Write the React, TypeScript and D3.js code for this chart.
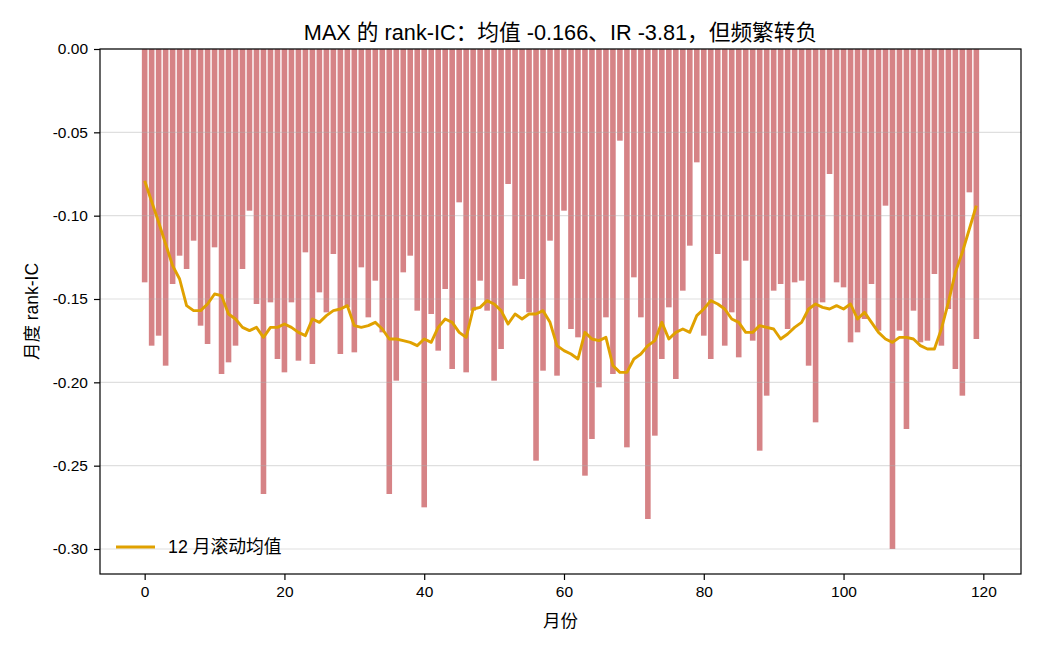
import React, { useEffect, useRef } from 'react';
import * as d3 from 'd3';

// month index 0..119
const months = d3.range(120);

// monthly rank-IC
const monthlyIC = [
  -0.140, -0.178, -0.172, -0.190, -0.141, -0.124, -0.132, -0.115, -0.166, -0.177,
  -0.119, -0.195, -0.188, -0.178, -0.132, -0.097, -0.153, -0.267, -0.152, -0.186,
  -0.194, -0.152, -0.187, -0.122, -0.189, -0.146, -0.158, -0.123, -0.183, -0.155,
  -0.182, -0.131, -0.161, -0.139, -0.170, -0.267, -0.199, -0.134, -0.124, -0.157,
  -0.275, -0.159, -0.181, -0.144, -0.192, -0.092, -0.194, -0.157, -0.139, -0.157,
  -0.199, -0.180, -0.081, -0.142, -0.138, -0.158, -0.247, -0.193, -0.115, -0.196,
  -0.097, -0.168, -0.173, -0.256, -0.234, -0.203, -0.161, -0.195, -0.055, -0.239,
  -0.137, -0.161, -0.282, -0.232, -0.186, -0.155, -0.198, -0.145, -0.118, -0.068,
  -0.172, -0.186, -0.123, -0.178, -0.158, -0.185, -0.127, -0.175, -0.241, -0.208,
  -0.145, -0.141, -0.168, -0.140, -0.139, -0.190, -0.224, -0.152, -0.075, -0.140,
  -0.143, -0.176, -0.170, -0.162, -0.141, -0.169, -0.094, -0.300, -0.169, -0.228,
  -0.157, -0.176, -0.175, -0.135, -0.178, -0.156, -0.192, -0.208, -0.086, -0.174,
];

// 12-month rolling mean line
const rolling12 = [
  -0.079, -0.0915, -0.104, -0.117, -0.130, -0.138, -0.154, -0.157, -0.157, -0.153,
  -0.147, -0.148, -0.159, -0.162, -0.167, -0.169, -0.167, -0.173, -0.167, -0.167,
  -0.165, -0.167, -0.170, -0.172, -0.162, -0.164, -0.160, -0.157, -0.156, -0.154,
  -0.166, -0.167, -0.166, -0.164, -0.168, -0.174, -0.174, -0.175, -0.176, -0.178,
  -0.174, -0.176, -0.167, -0.162, -0.164, -0.170, -0.173, -0.156, -0.155, -0.151,
  -0.153, -0.157, -0.165, -0.159, -0.162, -0.159, -0.159, -0.157, -0.164, -0.178,
  -0.181, -0.183, -0.186, -0.170, -0.174, -0.175, -0.173, -0.190, -0.194, -0.194,
  -0.186, -0.183, -0.178, -0.175, -0.164, -0.174, -0.170, -0.168, -0.170, -0.160,
  -0.156, -0.151, -0.153, -0.156, -0.162, -0.164, -0.170, -0.170, -0.166, -0.167,
  -0.168, -0.174, -0.171, -0.167, -0.164, -0.156, -0.153, -0.155, -0.156, -0.154,
  -0.156, -0.153, -0.162, -0.158, -0.164, -0.170, -0.174, -0.176, -0.173, -0.173,
  -0.174, -0.178, -0.180, -0.180, -0.168, -0.152, -0.134, -0.122, -0.108, -0.094,
];

const xTicks = [0, 20, 40, 60, 80, 100, 120];
const yTicks = [0, -0.05, -0.1, -0.15, -0.2, -0.25, -0.3];

const title = 'MAX 的 rank-IC：均值 -0.166、IR -3.81，但频繁转负';
const xLabel = '月份';
const yLabel = '月度 rank-IC';
const legendLabel = '12 月滚动均值';

const FONT = '"Liberation Sans", Arial, "Noto Sans CJK SC", sans-serif';

export default function App() {
  const ref = useRef<SVGSVGElement>(null);

  useEffect(() => {
    const W = 1040, H = 650;
    const left = 100, right = 1021, top = 49, bottom = 574;

    const svg = d3.select(ref.current)
      .attr('width', W)
      .attr('height', H)
      .style('font-family', FONT);
    svg.selectAll('*').remove();

    svg.append('rect').attr('width', W).attr('height', H).attr('fill', '#fff');

    const x = d3.scaleLinear().domain([-6.39, 125.39]).range([left, right]);
    const y = d3.scaleLinear().domain([-0.315, 0]).range([bottom, top]);
    const bw = x(0.8) - x(0);

    // bars
    svg.append('g')
      .selectAll('rect')
      .data(months)
      .enter()
      .append('rect')
      .attr('x', d => x(d - 0.4))
      .attr('width', bw)
      .attr('y', y(0))
      .attr('height', d => y(monthlyIC[d]) - y(0))
      .attr('fill', '#C44E52')
      .attr('fill-opacity', 0.7);

    // horizontal grid
    svg.append('g')
      .selectAll('line')
      .data(yTicks)
      .enter()
      .append('line')
      .attr('x1', left)
      .attr('x2', right)
      .attr('y1', d => y(d))
      .attr('y2', d => y(d))
      .attr('stroke', '#b0b0b0')
      .attr('stroke-opacity', 0.4)
      .attr('stroke-width', 1.2);

    // rolling line
    const line = d3.line<number>()
      .x(d => x(d))
      .y(d => y(rolling12[d]));
    svg.append('path')
      .datum(months)
      .attr('d', line)
      .attr('fill', 'none')
      .attr('stroke', '#E0A100')
      .attr('stroke-width', 2.9)
      .attr('stroke-linejoin', 'round');

    // spines
    svg.append('rect')
      .attr('x', left).attr('y', top)
      .attr('width', right - left).attr('height', bottom - top)
      .attr('fill', 'none')
      .attr('stroke', '#000')
      .attr('stroke-width', 1.2);

    // x axis
    const xAxis = svg.append('g')
      .attr('transform', `translate(0, ${bottom})`)
      .call(d3.axisBottom(x).tickValues(xTicks).tickSize(6).tickPadding(6).tickFormat(d3.format('d')));
    xAxis.select('.domain').remove();
    xAxis.selectAll('line').attr('stroke', '#000').attr('stroke-width', 1.2);
    xAxis.selectAll('text')
      .attr('fill', '#000')
      .style('font-family', FONT)
      .style('font-size', '15.5px');

    // y axis
    const yAxis = svg.append('g')
      .attr('transform', `translate(${left}, 0)`)
      .call(d3.axisLeft(y).tickValues(yTicks).tickSize(6).tickPadding(6)
        .tickFormat(d => (+d).toFixed(2)));
    yAxis.select('.domain').remove();
    yAxis.selectAll('line').attr('stroke', '#000').attr('stroke-width', 1.2);
    yAxis.selectAll('text')
      .attr('fill', '#000')
      .style('font-family', FONT)
      .style('font-size', '15.5px');

    // title and labels
    svg.append('text')
      .attr('x', (left + right) / 2)
      .attr('y', 40)
      .attr('text-anchor', 'middle')
      .style('font-size', '21.7px')
      .text(title);

    svg.append('text')
      .attr('x', (left + right) / 2)
      .attr('y', 627)
      .attr('text-anchor', 'middle')
      .style('font-size', '17.5px')
      .text(xLabel);

    svg.append('text')
      .attr('transform', `translate(38, ${(top + bottom) / 2}) rotate(-90)`)
      .attr('text-anchor', 'middle')
      .style('font-size', '17.5px')
      .text(yLabel);

    // legend
    const lg = svg.append('g');
    lg.append('line')
      .attr('x1', 116).attr('x2', 155)
      .attr('y1', 547).attr('y2', 547)
      .attr('stroke', '#E0A100')
      .attr('stroke-width', 2.9);
    lg.append('text')
      .attr('x', 168)
      .attr('y', 553)
      .style('font-size', '17.8px')
      .text(legendLabel);
  }, []);

  return (
    <div style={{ position: 'absolute', left: 0, top: 0 }}>
      <svg ref={ref}></svg>
    </div>
  );
}
